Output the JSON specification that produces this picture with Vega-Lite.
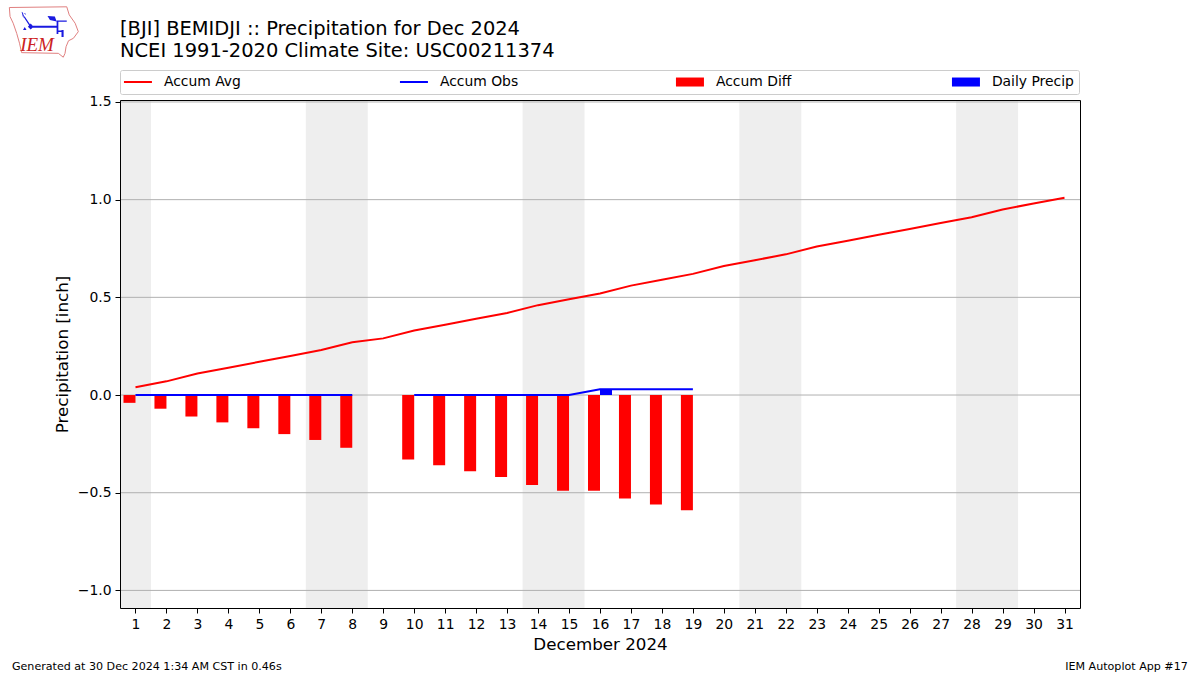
{
"$schema":"https://vega.github.io/schema/vega-lite/v6.json",
"width":960,"height":508,
"autosize":{"type":"none"},
"padding":{"left":120,"top":100,"right":120,"bottom":67},
"background":"white",
"config":{"font":"DejaVu Sans","view":{"stroke":null}},
"title":{"text":["[BJI] BEMIDJI :: Precipitation for Dec 2024","NCEI 1991-2020 Climate Site: USC00211374"],"anchor":"start","frame":"group","fontSize":19.44,"fontWeight":"normal","color":"black","lineHeight":22,"offset":-57,"font":"DejaVu Sans"},
"datasets":{
"days":[
{"day":1,"avg":0.04,"obs":0,"diff":-0.04},{"day":2,"avg":0.07,"obs":0,"diff":-0.07},{"day":3,"avg":0.11,"obs":0,"diff":-0.11},{"day":4,"avg":0.14,"obs":0,"diff":-0.14},{"day":5,"avg":0.17,"obs":0,"diff":-0.17},{"day":6,"avg":0.20,"obs":0,"diff":-0.20},{"day":7,"avg":0.23,"obs":0,"diff":-0.23},{"day":8,"avg":0.27,"obs":0,"diff":-0.27},{"day":9,"avg":0.29,"obs":null,"diff":null},{"day":10,"avg":0.33,"obs":0,"diff":-0.33},{"day":11,"avg":0.36,"obs":0,"diff":-0.36},{"day":12,"avg":0.39,"obs":0,"diff":-0.39},{"day":13,"avg":0.42,"obs":0,"diff":-0.42},{"day":14,"avg":0.46,"obs":0,"diff":-0.46},{"day":15,"avg":0.49,"obs":0,"diff":-0.49},{"day":16,"avg":0.52,"obs":0.03,"diff":-0.49,"daily":0.03},{"day":17,"avg":0.56,"obs":0.03,"diff":-0.53},{"day":18,"avg":0.59,"obs":0.03,"diff":-0.56},{"day":19,"avg":0.62,"obs":0.03,"diff":-0.59},{"day":20,"avg":0.66},{"day":21,"avg":0.69},{"day":22,"avg":0.72},{"day":23,"avg":0.76},{"day":24,"avg":0.79},{"day":25,"avg":0.82},{"day":26,"avg":0.85},{"day":27,"avg":0.88},{"day":28,"avg":0.91},{"day":29,"avg":0.95},{"day":30,"avg":0.98},{"day":31,"avg":1.01}],
"weekends":[{"start":0.5,"end":1.5},{"start":6.5,"end":8.5},{"start":13.5,"end":15.5},{"start":20.5,"end":22.5},{"start":27.5,"end":29.5}],
"grid":[{"v":-1},{"v":-0.5},{"v":0},{"v":0.5},{"v":1},{"v":1.5}],
"series":[{"series":"Accum Avg"},{"series":"Accum Obs"},{"series":"Accum Diff"},{"series":"Daily Precip"}]
},
"layer":[
{"data":{"name":"weekends"},"mark":{"type":"rect","color":"#eeeeee"},
 "encoding":{"x":{"field":"start","type":"quantitative","scale":{"domain":[0.5,31.5],"nice":false,"zero":false,"padding":0},
   "axis":{"values":[1,2,3,4,5,6,7,8,9,10,11,12,13,14,15,16,17,18,19,20,21,22,23,24,25,26,27,28,29,30,31],"tickCount":31,"format":"d","title":"December 2024","titleFontSize":16.7,"titleFontWeight":"normal","titleColor":"black","titlePadding":6,"labelFontSize":13.9,"labelColor":"black","tickColor":"black","tickSize":5,"domain":false,"grid":false,"labelPadding":4,"labelFlush":false,"labelOverlap":false}},
  "x2":{"field":"end"}}},
{"data":{"name":"grid"},"mark":{"type":"rule","color":"#b0b0b0","strokeWidth":1},
 "encoding":{"y":{"field":"v","type":"quantitative","scale":{"domain":[-1.09,1.51],"nice":false,"zero":false},
   "axis":{"values":[-1,-0.5,0,0.5,1,1.5],"format":".1f","title":"Precipitation [inch]","titleFontSize":16.7,"titleFontWeight":"normal","titleColor":"black","titlePadding":6,"labelFontSize":13.9,"labelColor":"black","tickColor":"black","tickSize":5,"domain":false,"grid":false,"labelPadding":4,"labelOverlap":false}}}},
{"data":{"name":"days"},"transform":[{"filter":"datum.diff != null"}],"mark":{"type":"bar","size":12,"xOffset":-6,"color":"#ff0000"},
 "encoding":{"x":{"field":"day","type":"quantitative"},"y":{"field":"diff","type":"quantitative"},"y2":{"datum":0}}},
{"data":{"name":"days"},"transform":[{"filter":"datum.daily != null"}],"mark":{"type":"bar","size":12,"xOffset":6,"color":"#0000ff"},
 "encoding":{"x":{"field":"day","type":"quantitative"},"y":{"field":"daily","type":"quantitative"},"y2":{"datum":0}}},
{"data":{"name":"days"},"mark":{"type":"line","color":"#ff0000","strokeWidth":2,"interpolate":"linear"},
 "encoding":{"x":{"field":"day","type":"quantitative"},"y":{"field":"avg","type":"quantitative"}}},
{"data":{"name":"days"},"transform":[{"filter":"datum.day < 20"}],"mark":{"type":"line","color":"#0000ff","strokeWidth":2},
 "encoding":{"x":{"field":"day","type":"quantitative"},"y":{"field":"obs","type":"quantitative"}}},
{"data":{"values":[{"x0":0.5,"x1":31.5,"y0":-1.09,"y1":1.51}]},"mark":{"type":"rect","fill":null,"stroke":"black","strokeWidth":1,"xOffset":0.5,"x2Offset":0.5,"yOffset":0.5,"y2Offset":0.5},
 "encoding":{"x":{"field":"x0","type":"quantitative"},"x2":{"field":"x1"},"y":{"field":"y0","type":"quantitative"},"y2":{"field":"y1"}}},
{"data":{"name":"series"},"mark":{"type":"point","filled":true,"size":0,"opacity":1},
 "encoding":{
  "shape":{"field":"series","type":"nominal","scale":{"domain":["Accum Avg","Accum Obs","Accum Diff","Daily Precip"],"range":["M-1.6,-0.2H4V0.2H-1.6Z","M-1.6,-0.2H4V0.2H-1.6Z","M-1.6,-0.9H4V0.9H-1.6Z","M-1.6,-0.9H4V0.9H-1.6Z"]},
    "legend":{"orient":"none","legendX":0,"legendY":-30,"direction":"horizontal","columns":4,"title":null,"gridAlign":"all","symbolSize":100,"labelFontSize":13.9,"labelColor":"black","labelOffset":25,"columnPadding":153,"padding":5,"fillColor":"white","strokeColor":"#cccccc","cornerRadius":2,"symbolStrokeWidth":0,"symbolOpacity":1}},
  "color":{"field":"series","type":"nominal","scale":{"domain":["Accum Avg","Accum Obs","Accum Diff","Daily Precip"],"range":["#ff0000","#0000ff","#ff0000","#0000ff"]},"legend":{"orient":"none"}}}},
{"data":{"values":[{"note":"Generated at 30 Dec 2024 1:34 AM CST in 0.46s"}]},"mark":{"type":"text","align":"left","baseline":"middle","fontSize":11.1,"color":"black"},
 "encoding":{"x":{"datum":-2.99},"y":{"datum":-1.392},"text":{"field":"note"}}},
{"data":{"values":[{"note":"IEM Autoplot App #17"}]},"mark":{"type":"text","align":"right","baseline":"middle","fontSize":11.1,"color":"black"},
 "encoding":{"x":{"datum":34.98},"y":{"datum":-1.392},"text":{"field":"note"}}},
{"data":{"values":[{"part":"logo outline"}]},"mark":{"type":"point","filled":false,"size":4900,"stroke":"#e08080","strokeWidth":1,"opacity":1,"shape":"M-.99,-.70L.65,-.72L.72,-.49L.89,-.25L.98,-.01L.84,.18L.70,.25L.63,.42L.60,.61L.55,.72L.41,.61L-.64,.59L-.70,.32L-.78,.04L-.88,-.25L-.97,-.44Z"},
 "encoding":{"x":{"datum":-1.954},"y":{"datum":1.858}}},
{"data":{"values":[{"part":"logo glyph"}]},"mark":{"type":"point","filled":true,"size":4900,"fill":"#1a1ae0","strokeWidth":0,"opacity":1,"shape":"M-.38,-.18H.38V-.12H-.38ZM-.46,-.15L-.38,-.24L-.30,-.15L-.38,-.07ZM-.40,-.15L-.59,-.44L-.56,-.46L-.36,-.16ZM-.64,-.58L-.60,-.42L-.56,-.43L-.61,-.55L-.52,-.52L-.52,-.49ZM.10,-.46L.31,-.44L.36,-.30L.17,-.34ZM.36,-.33H.65V-.29H.36ZM.36,-.33H.41V.06H.36ZM.50,-.06H.56V.14H.50ZM.40,-.04H.54V0H.40ZM-.55,-.14L-.50,-.06L-.60,-.06Z"},
 "encoding":{"x":{"datum":-1.954},"y":{"datum":1.858}}},
{"data":{"values":[{"note":"IEM"}]},"mark":{"type":"text","align":"center","baseline":"middle","fontSize":19,"fontStyle":"italic","font":"Liberation Serif","color":"#cc2222"},
 "encoding":{"x":{"datum":-2.18},"y":{"datum":1.794},"text":{"field":"note"}}}
]
}
